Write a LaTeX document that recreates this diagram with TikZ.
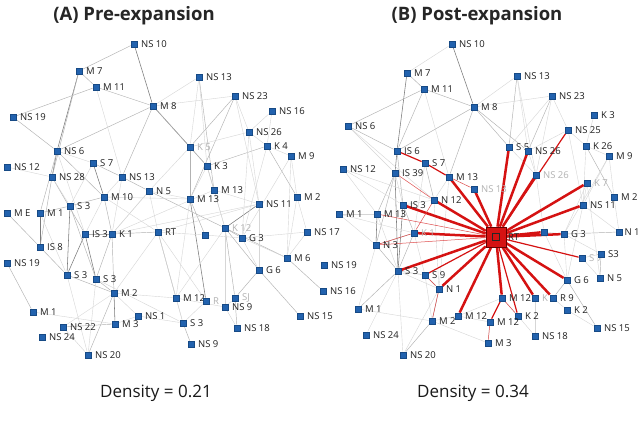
\documentclass[tikz,border=0pt]{standalone}
\usepackage{fontspec}
\setmainfont{Open Sans}
\pgfdeclarelayer{bg}
\pgfdeclarelayer{edges}
\pgfsetlayers{bg,edges,main}
\definecolor{mkblue}{HTML}{2262AE}
\definecolor{mkedge}{HTML}{174A85}
\definecolor{rtred}{HTML}{D51212}
\tikzset{
 mk/.style={rectangle, fill=mkblue, draw=mkedge, line width=0.3pt, minimum size=6.5pt, inner sep=0pt},
 lb/.style={font=\fontsize{9.5}{10}\selectfont, inner sep=0.5pt, text=black!88, anchor=west},
 lbf/.style={lb, text=black!30},
 ed/.style={draw=black!52, line width=0.55pt},
 em/.style={draw=black!30, line width=0.45pt},
 el/.style={draw=black!16, line width=0.4pt},
 rk/.style={draw=rtred, line width=2.5pt},
 rm/.style={draw=rtred, line width=1.2pt},
 rl/.style={draw=rtred!75, line width=0.5pt},
 ttl/.style={font=\fontsize{18.5}{20}\selectfont\bfseries, text=black!85},
 dens/.style={font=\fontsize{17}{19}\selectfont, text=black!90},
}
\newcommand{\nd}[4]{\node[mk] (#1) at (#2,#3) {}; \node[lb] (#1l) at ([xshift=3pt]#1.east) {#4};}
\newcommand{\ndf}[4]{\node[mk] (#1) at (#2,#3) {}; \node[lbf] (#1l) at ([xshift=3pt]#1.east) {#4};}
\newcommand{\edg}[2]{\foreach \u/\v in {#2} {\draw[#1] (\u) -- (\v);}}
\begin{document}
\begin{tikzpicture}[x=1pt,y=-1pt]
\useasboundingbox (0,0) rectangle (640,423);
\begin{pgfonlayer}{bg}
\fill[white] (0,0) rectangle (640,423);
\end{pgfonlayer}
% titles
\node[ttl] (tA) at (134,16) {(A) Pre-expansion};
\node[ttl] (tB) at (477,16) {(B) Post-expansion};
\node[dens] (dA) at (156,393) {Density = 0.21};
\node[dens] (dB) at (473,393) {Density = 0.34};
% ---------- Panel A nodes ----------
\nd{a1}{134}{44}{NS 10}
\nd{a2}{79}{71}{M 7}
\nd{a3}{96}{87}{M 11}
\nd{a4}{13}{117}{NS 19}
\nd{a5}{153}{106}{M 8}
\nd{a6}{57}{151}{NS 6}
\nd{a7}{7}{167}{NS 12}
\nd{a8}{93}{163}{S 7}
\nd{a9}{52}{177}{NS 28}
\nd{a10}{122}{177}{NS 13}
\nd{a11}{104}{197}{M 10}
\nd{a12}{149}{191}{N 5}
\nd{a13}{199}{77}{NS 13}
\nd{a14}{235}{96}{NS 23}
\nd{a15}{272}{111}{NS 16}
\nd{a16}{249}{132}{NS 26}
\nd{a17}{267}{146}{K 4}
\ndf{a18}{190}{147}{K 5}
\nd{a19}{291}{156}{M 9}
\nd{a20}{207}{166}{K 3}
\nd{a21}{214}{190}{M 13}
\nd{a22}{190}{199}{M 13}
\nd{a23}{297}{197}{M 2}
\nd{a24}{259}{204}{NS 11}
\nd{a25}{307}{232}{NS 17}
\ndf{a26}{225}{228}{K 12}
\ndf{a27}{205}{235}{~}
\nd{a28}{158}{232}{RT}
\nd{a29}{242}{238}{G 3}
\nd{a30}{287}{258}{M 6}
\nd{a31}{259}{270}{G 6}
\nd{a32}{324}{265}{NS 19}
\nd{a33}{323}{291}{NS 16}
\nd{a34}{300}{316}{NS 15}
\nd{a35}{176}{298}{M 12}
\ndf{a36}{206}{301}{R}
\ndf{a37}{235}{298}{SJ}
\nd{a38}{225}{307}{NS 9}
\nd{a39}{138}{316}{NS 1}
\nd{a40}{183}{323}{S 3}
\nd{a41}{237}{328}{NS 18}
\nd{a42}{191}{344}{NS 9}
\nd{a43}{115}{324}{M 3}
\nd{a44}{114}{293}{M 2}
\nd{a45}{70}{206}{S 3}
\nd{a46}{7}{213}{M E}
\nd{a47}{40}{213}{M 1}
\nd{a48}{85}{234}{IS 3}
\nd{a49}{112}{234}{K 1}
\nd{a50}{40}{247}{IS 8}
\nd{a51}{7}{263}{NS 19}
\nd{a52}{67}{275}{S 3}
\nd{a53}{96}{279}{S 3}
\nd{a54}{33}{312}{M 1}
\nd{a55}{63}{327}{NS 22}
\nd{a56}{42}{337}{NS 24}
\nd{a57}{88}{355}{NS 20}
% ---------- Panel B nodes ----------
\nd{b1}{452}{44}{NS 10}
\nd{b2}{407}{73}{M 7}
\nd{b3}{424}{89}{M 11}
\nd{b4}{348}{126}{NS 6}
\nd{b5}{474}{107}{M 8}
\nd{b6}{397}{151}{IS 6}
\nd{b7}{425}{163}{S 7}
\nd{b8}{343}{169}{NS 12}
\nd{b9}{395}{173}{IS 39}
\nd{b10}{449}{177}{M 13}
\ndf{b11}{474}{189}{NS 13}
\nd{b12}{434}{200}{N 12}
\nd{b13}{517}{76}{NS 13}
\nd{b14}{552}{96}{NS 23}
\nd{b15}{594}{115}{K 3}
\nd{b16}{568}{130}{NS 25}
\nd{b17}{586}{146}{K 26}
\nd{b18}{509}{147}{S 5}
\nd{b19}{528}{151}{NS 26}
\nd{b20}{609}{156}{M 9}
\ndf{b21}{536}{175}{NS 26}
\ndf{b22}{587}{183}{K 7}
\nd{b23}{614}{197}{M 2}
\nd{b24}{583}{205}{NS 11}
\nd{b26}{544}{232}{~}
\nd{b27}{564}{234}{G 3}
\node[mk] (b28) at (619,232) {}; \node[lb] (b28l) at ([xshift=1.5pt]b28.east) {N 1};
\ndf{b29}{582}{258}{S 7}
\nd{b30}{601}{254}{S3}
\nd{b31}{600}{278}{N 5}
\nd{b32}{567}{280}{G 6}
\nd{b33}{502}{298}{M 12}
\ndf{b34}{535}{298}{K}
\nd{b35}{553}{298}{R 9}
\nd{b36}{567}{310}{K 2}
\nd{b37}{518}{316}{K 2}
\nd{b38}{490}{322}{M 12}
\nd{b39}{597}{328}{NS 15}
\nd{b40}{535}{336}{NS 18}
\nd{b41}{488}{343}{M 3}
\nd{b42}{458}{316}{M 12}
\nd{b43}{403}{205}{IS 3}
\nd{b44}{339}{214}{M 1}
\nd{b45}{377}{214}{M 13}
\ndf{b46}{414}{233}{K 1}
\nd{b47}{376}{245}{N 3}
\nd{b48}{398}{271}{S 3}
\nd{b49}{425}{275}{S 9}
\nd{b50}{439}{289}{N 1}
\nd{b51}{358}{309}{M 1}
\nd{b52}{432}{321}{M 2}
\nd{b53}{366}{335}{NS 24}
\nd{b54}{403}{355}{NS 20}
% big RT
\node[rectangle, fill=rtred, draw=black!60!red, line width=0.6pt, minimum size=20pt, inner sep=0pt] (b25) at (496,237) {};
\node[rectangle, draw=black!85, line width=0.6pt, minimum size=7pt, inner sep=0pt] (b25i) at (b25) {};
\node[lb] (b25l) at ([xshift=1pt]b25.east) {RT};
% ---------- edges ----------
\begin{pgfonlayer}{edges}
% panel A
\edg{ed}{a1/a5,a2/a6,a6/a9,a8/a11,a5/a18,a22/a36,a24/a26,a47/a50,a45/a52,a48/a52,a48/a53,a44/a43}
\edg{em}{a1/a2,a2/a3,a3/a4,a3/a5,a4/a6,a6/a5,a5/a10,a6/a11,a8/a10,a10/a12,a5/a20,a13/a21,a14/a18,a14/a22,a17/a20,a17/a23,a18/a20,a20/a21,a18/a22,a22/a27,a26/a29,a26/a30,a26/a31,a26/a37,a30/a33,a31/a34,a31/a37,a28/a35,a37/a41,a40/a42,a9/a48,a9/a50,a6/a47,a46/a50,a45/a47,a45/a11,a45/a53,a48/a49,a49/a11,a49/a53,a49/a44,a49/a28,a50/a52,a51/a54,a52/a44,a53/a44,a44/a57,a43/a55,a12/a26,a2/a9}
\edg{el}{a3/a10,a7/a9,a10/a11,a5/a14,a5/a13,a13/a18,a14/a16,a15/a16,a15/a17,a16/a18,a16/a29,a17/a19,a19/a23,a19/a29,a20/a22,a21/a26,a24/a16,a24/a31,a23/a30,a23/a25,a25/a29,a25/a30,a26/a38,a26/a35,a31/a29,a28/a12,a28/a27,a28/a24,a28/a40,a28/a36,a35/a38,a36/a40,a38/a41,a40/a39,a39/a43,a6/a48,a48/a11,a49/a12,a52/a57,a47/a52,a54/a43,a53/a57,a44/a39,a44/a35,a49/a24,a49/a21,a11/a22,a12/a22,a9/a45,a8/a45,a10/a49,a13/a20,a14/a24,a16/a17,a21/a24,a22/a35,a29/a30,a12/a49,a28/a44,a35/a40,a37/a38,a27/a29,a11/a28,a6/a8,a53/a40,a44/a55,a18/a12,a17/a29,a19/a30,a20/a26,a55/a57}
% panel B gray
\edg{ed}{b1/b5,b2/b6,b6/b9,b9/b48,b43/b48,b45/b47}
\edg{em}{b2/b3,b3/b4,b3/b5,b3/b6,b4/b6,b6/b5,b6/b43,b5/b10,b5/b18,b5/b19,b13/b18,b14/b19,b17/b23,b27/b28,b30/b31,b32/b39,b32/b35,b9/b45,b9/b47,b43/b46,b46/b47,b46/b48,b47/b48,b48/b51,b48/b49,b49/b50,b50/b52,b52/b54,b7/b12}
\edg{el}{b1/b2,b3/b10,b4/b9,b4/b12,b8/b12,b8/b43,b5/b13,b5/b14,b13/b19,b14/b16,b14/b18,b14/b21,b15/b17,b16/b17,b16/b19,b17/b20,b17/b24,b20/b23,b20/b27,b22/b31,b22/b24,b23/b28,b24/b28,b24/b32,b27/b30,b29/b31,b35/b36,b34/b40,b33/b37,b37/b40,b38/b41,b43/b12,b44/b45,b44/b46,b46/b49,b48/b50,b50/b54,b51/b52,b48/b53,b7/b46,b10/b12,b10/b50,b12/b50,b42/b52,b52/b41,b8/b45,b44/b47,b9/b43,b26/b27,b26/b32,b21/b26,b19/b21,b18/b21,b27/b32,b29/b30,b36/b39,b33/b42,b42/b38,b45/b48,b47/b51,b49/b52,b54/b48,b13/b21,b16/b24,b20/b24,b22/b27}
% panel B red
\edg{rk}{b25/b18,b25/b19,b25/b21,b25/b22,b25/b24,b25/b27,b25/b26,b25/b32,b25/b35,b25/b34,b25/b33,b25/b42,b25/b50,b25/b48,b25/b46,b25/b43,b25/b12,b25/b10,b25/b11}
\edg{rm}{b25/b16,b25/b29,b25/b37,b25/b49,b33/b38,b6/b7,b7/b10}
\edg{rl}{b10/b11,b9/b12,b50/b52,b46/b12,b49/b50,b25/b47,b25/b45,b38/b41,b33/b37,b46/b47}
\end{pgfonlayer}
\end{tikzpicture}
\end{document}
